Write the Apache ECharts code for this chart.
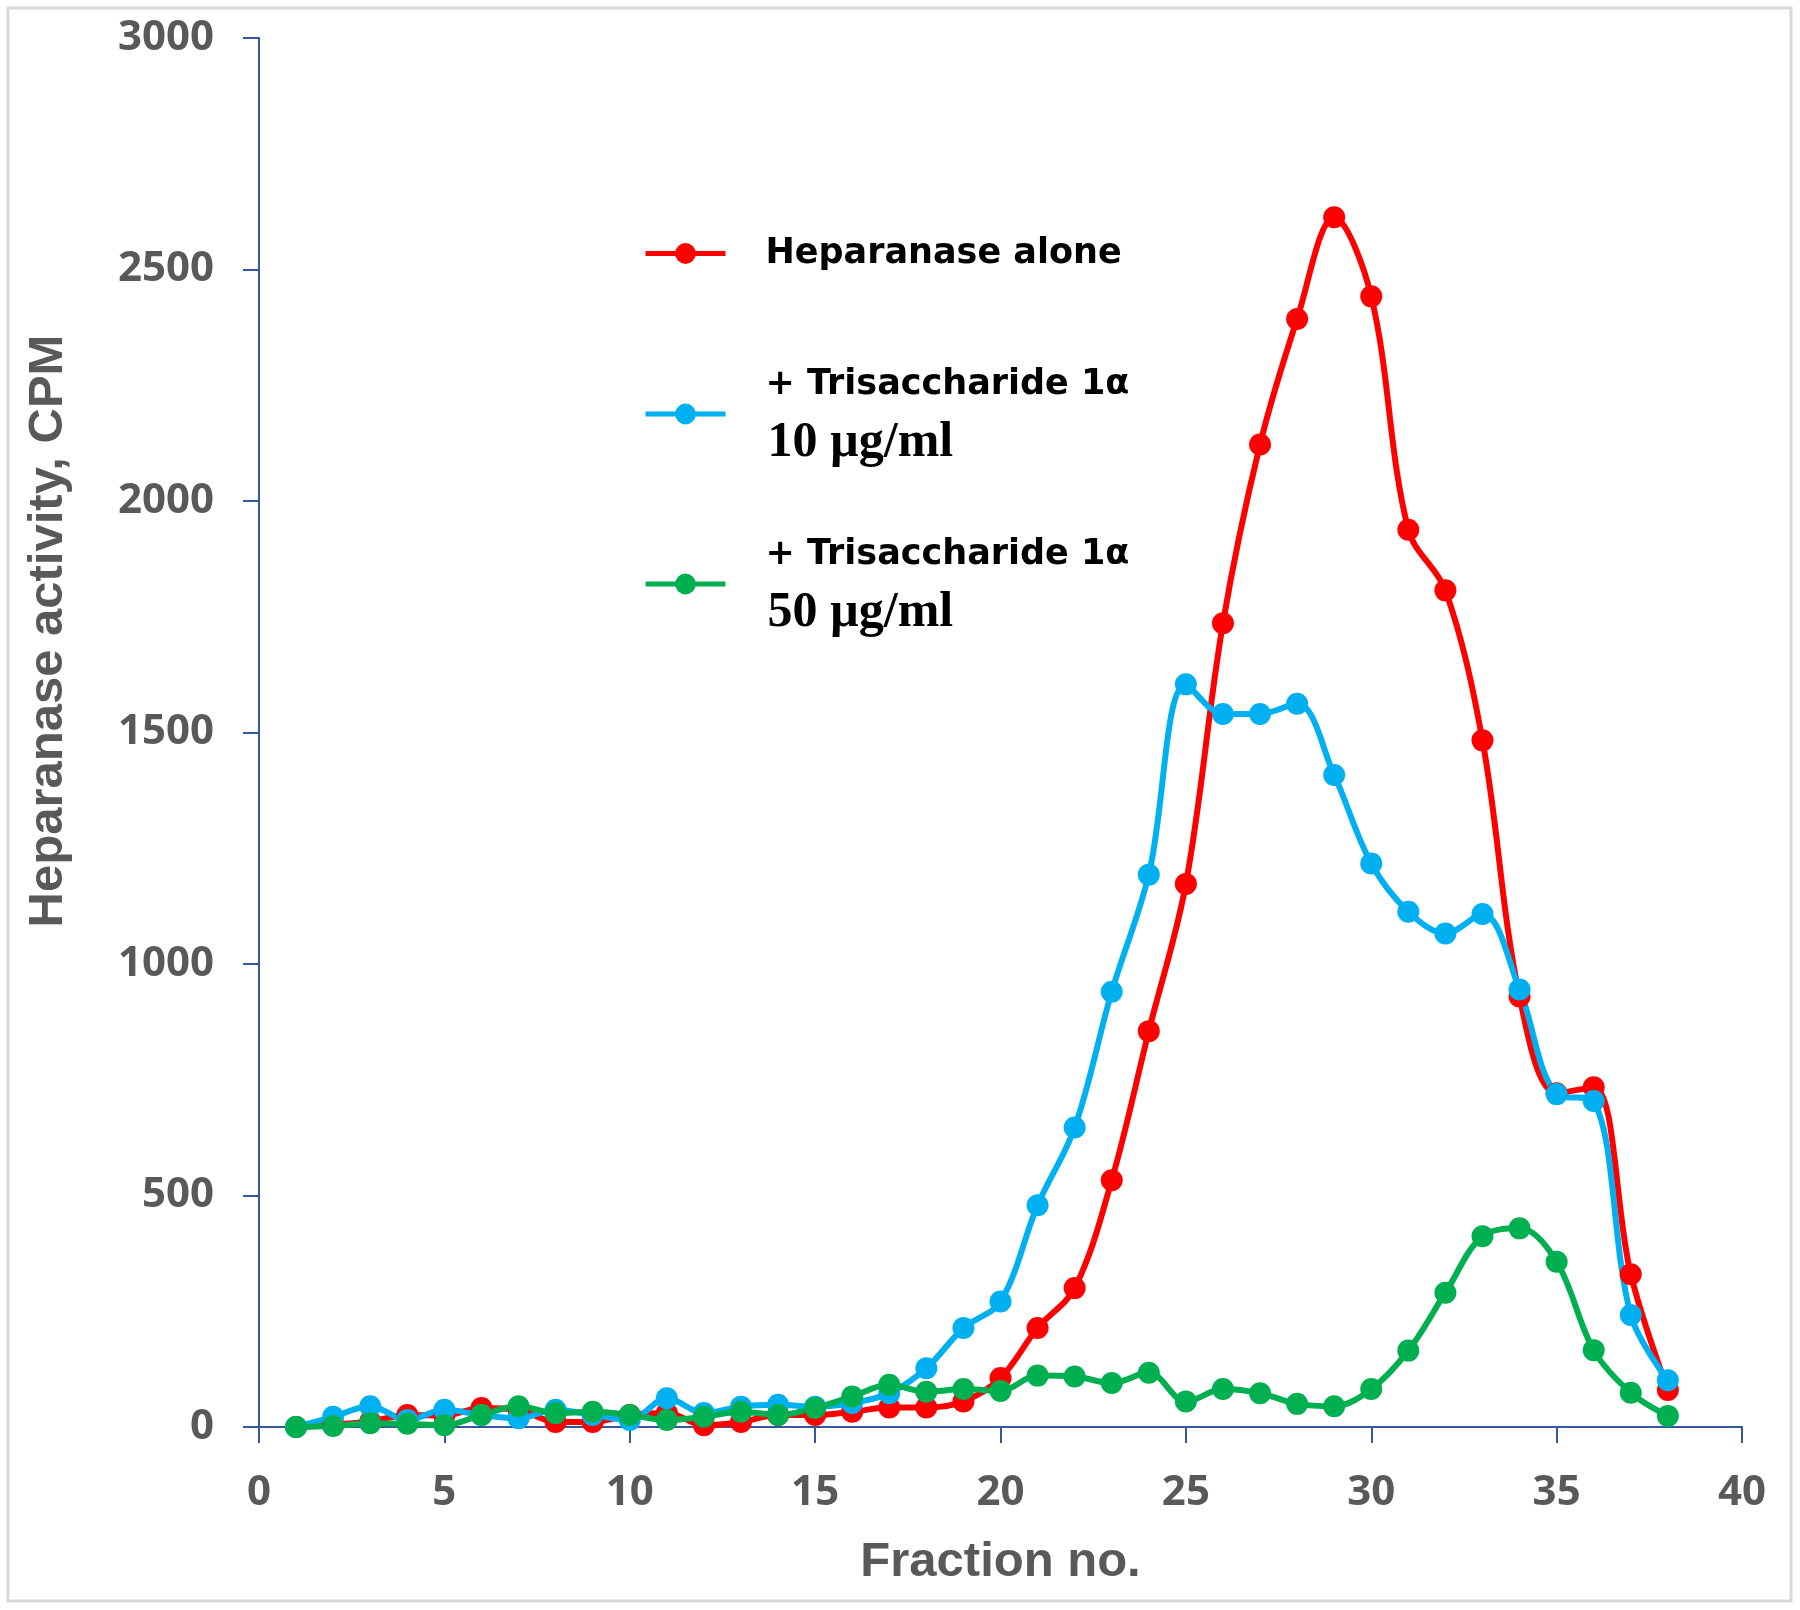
<!DOCTYPE html>
<html>
<head>
<meta charset="utf-8">
<title>Heparanase activity</title>
<script src="https://cdn.jsdelivr.net/npm/echarts@6/dist/echarts.min.js"></script>
<style>
    html, body { margin: 0; padding: 0; background: #fff; }
    #chart { width: 1800px; height: 1610px; }
</style>
</head>
<body>
<div id="chart"></div>
<script>
// 组分编号
var fractions = [1, 2, 3, 4, 5, 6, 7, 8, 9, 10, 11, 12, 13, 14, 15, 16, 17, 18, 19,
    20, 21, 22, 23, 24, 25, 26, 27, 28, 29, 30, 31, 32, 33, 34, 35, 36, 37, 38];

// Heparanase alone
var heparanaseAlone = [0, 5, 12, 26, 25, 41, 37, 11, 11, 26, 30, 4, 11, 26, 26, 33, 42, 42, 55,
    106, 214, 300, 533, 855, 1173, 1736, 2122, 2393, 2613, 2442, 1938, 1807, 1483, 930, 721, 734, 330, 80];

// + Trisaccharide 1α 10 µg/ml
var trisaccharide10 = [0, 22, 45, 15, 37, 26, 19, 37, 26, 15, 62, 30, 44, 48, 44, 52, 73, 127, 214,
    271, 479, 647, 940, 1193, 1604, 1540, 1540, 1562, 1408, 1217, 1113, 1066, 1108, 945, 719, 704, 242, 101];

// + Trisaccharide 1α 50 µg/ml
var trisaccharide50 = [0, 2, 8, 7, 4, 26, 45, 30, 33, 26, 15, 22, 33, 26, 41, 66, 91, 76, 82,
    78, 111, 109, 95, 117, 55, 82, 73, 50, 45, 82, 165, 290, 412, 429, 357, 166, 74, 24];

var seriesNames = ['Heparanase alone', '+ Trisaccharide 1α 10 µg/ml', '+ Trisaccharide 1α 50 µg/ml'];
var legendLines = [
    ['Heparanase alone'],
    ['+ Trisaccharide 1α', '10 µg/ml'],
    ['+ Trisaccharide 1α', '50 µg/ml']
];
var colors = ['#ff0000', '#00b0f0', '#00b050'];

var axisColor = '#34589a';
var labelColor = '#595959';

function pairs(values) {
    return fractions.map(function (f, i) {
        return [f, values[i]];
    });
}

function makeLegend(index, top) {
    return {
        data: [seriesNames[index]],
        left: 643,
        top: top,
        padding: 0,
        itemWidth: 80,
        itemHeight: 26,
        lineStyle: { width: 5 },
        formatter: function () {
            var lines = legendLines[index];
            var out = '{t|' + lines[0] + '}';
            if (lines.length > 1) {
                out += '\n{s|' + lines[1] + '}';
            }
            return out;
        },
        textStyle: {
            rich: {
                t: {
                    fontFamily: 'DejaVu Sans',
                    fontWeight: 'bold',
                    fontSize: 35,
                    lineHeight: 59,
                    color: '#000',
                    padding: [0, 0, 0, 35]
                },
                s: {
                    fontFamily: 'Liberation Serif',
                    fontWeight: 'bold',
                    fontSize: 50,
                    lineHeight: 59,
                    color: '#000',
                    padding: [0, 0, 0, 37]
                }
            }
        }
    };
}

function makeSeries(index, values) {
    return {
        name: seriesNames[index],
        type: 'line',
        data: pairs(values),
        smooth: 0.35,
        symbol: 'circle',
        symbolSize: 22,
        lineStyle: { width: 6, color: colors[index] },
        itemStyle: { color: colors[index] },
        emphasis: { disabled: true }
    };
}

var chart = echarts.init(document.getElementById('chart'));

var option = {
    backgroundColor: '#fff',
    animation: false,
    color: colors,
    graphic: [
        {
            type: 'rect',
            shape: { x: 8, y: 8, width: 1783, height: 1593 },
            style: { fill: 'none', stroke: '#d9d9d9', lineWidth: 3 },
            silent: true
        }
    ],
    legend: [
        makeLegend(0, 236),
        makeLegend(1, 367),
        makeLegend(2, 537)
    ],
    grid: {
        left: 259,
        right: 58,
        top: 38,
        bottom: 183,
        containLabel: false
    },
    xAxis: {
        type: 'value',
        min: 0,
        max: 40,
        interval: 5,
        name: 'Fraction no.',
        nameLocation: 'middle',
        nameGap: 111,
        nameTextStyle: {
            fontFamily: 'Liberation Sans',
            fontWeight: 'bold',
            fontSize: 49,
            color: labelColor
        },
        axisLine: { show: true, lineStyle: { color: axisColor, width: 2 } },
        axisTick: { show: true, length: 16, lineStyle: { color: axisColor, width: 2 } },
        axisLabel: {
            margin: 45,
            fontFamily: 'Open Sans',
            fontWeight: 'bold',
            fontSize: 42,
            color: labelColor
        },
        splitLine: { show: false }
    },
    yAxis: {
        type: 'value',
        min: 0,
        max: 3000,
        interval: 500,
        name: 'Heparanase activity, CPM',
        nameLocation: 'middle',
        nameGap: 186,
        nameTextStyle: {
            fontFamily: 'Liberation Sans',
            fontWeight: 'bold',
            fontSize: 49,
            color: labelColor,
            padding: [0, 0, 0, 203]
        },
        axisLine: { show: true, lineStyle: { color: axisColor, width: 2 } },
        axisTick: { show: true, length: 16, lineStyle: { color: axisColor, width: 2 } },
        axisLabel: {
            margin: 45,
            fontFamily: 'Open Sans',
            fontWeight: 'bold',
            fontSize: 42,
            color: labelColor,
            formatter: function (v) {
                return String(v);
            }
        },
        splitLine: { show: false }
    },
    series: [
        makeSeries(0, heparanaseAlone),
        makeSeries(1, trisaccharide10),
        makeSeries(2, trisaccharide50)
    ]
};

chart.setOption(option);
</script>
</body>
</html>
